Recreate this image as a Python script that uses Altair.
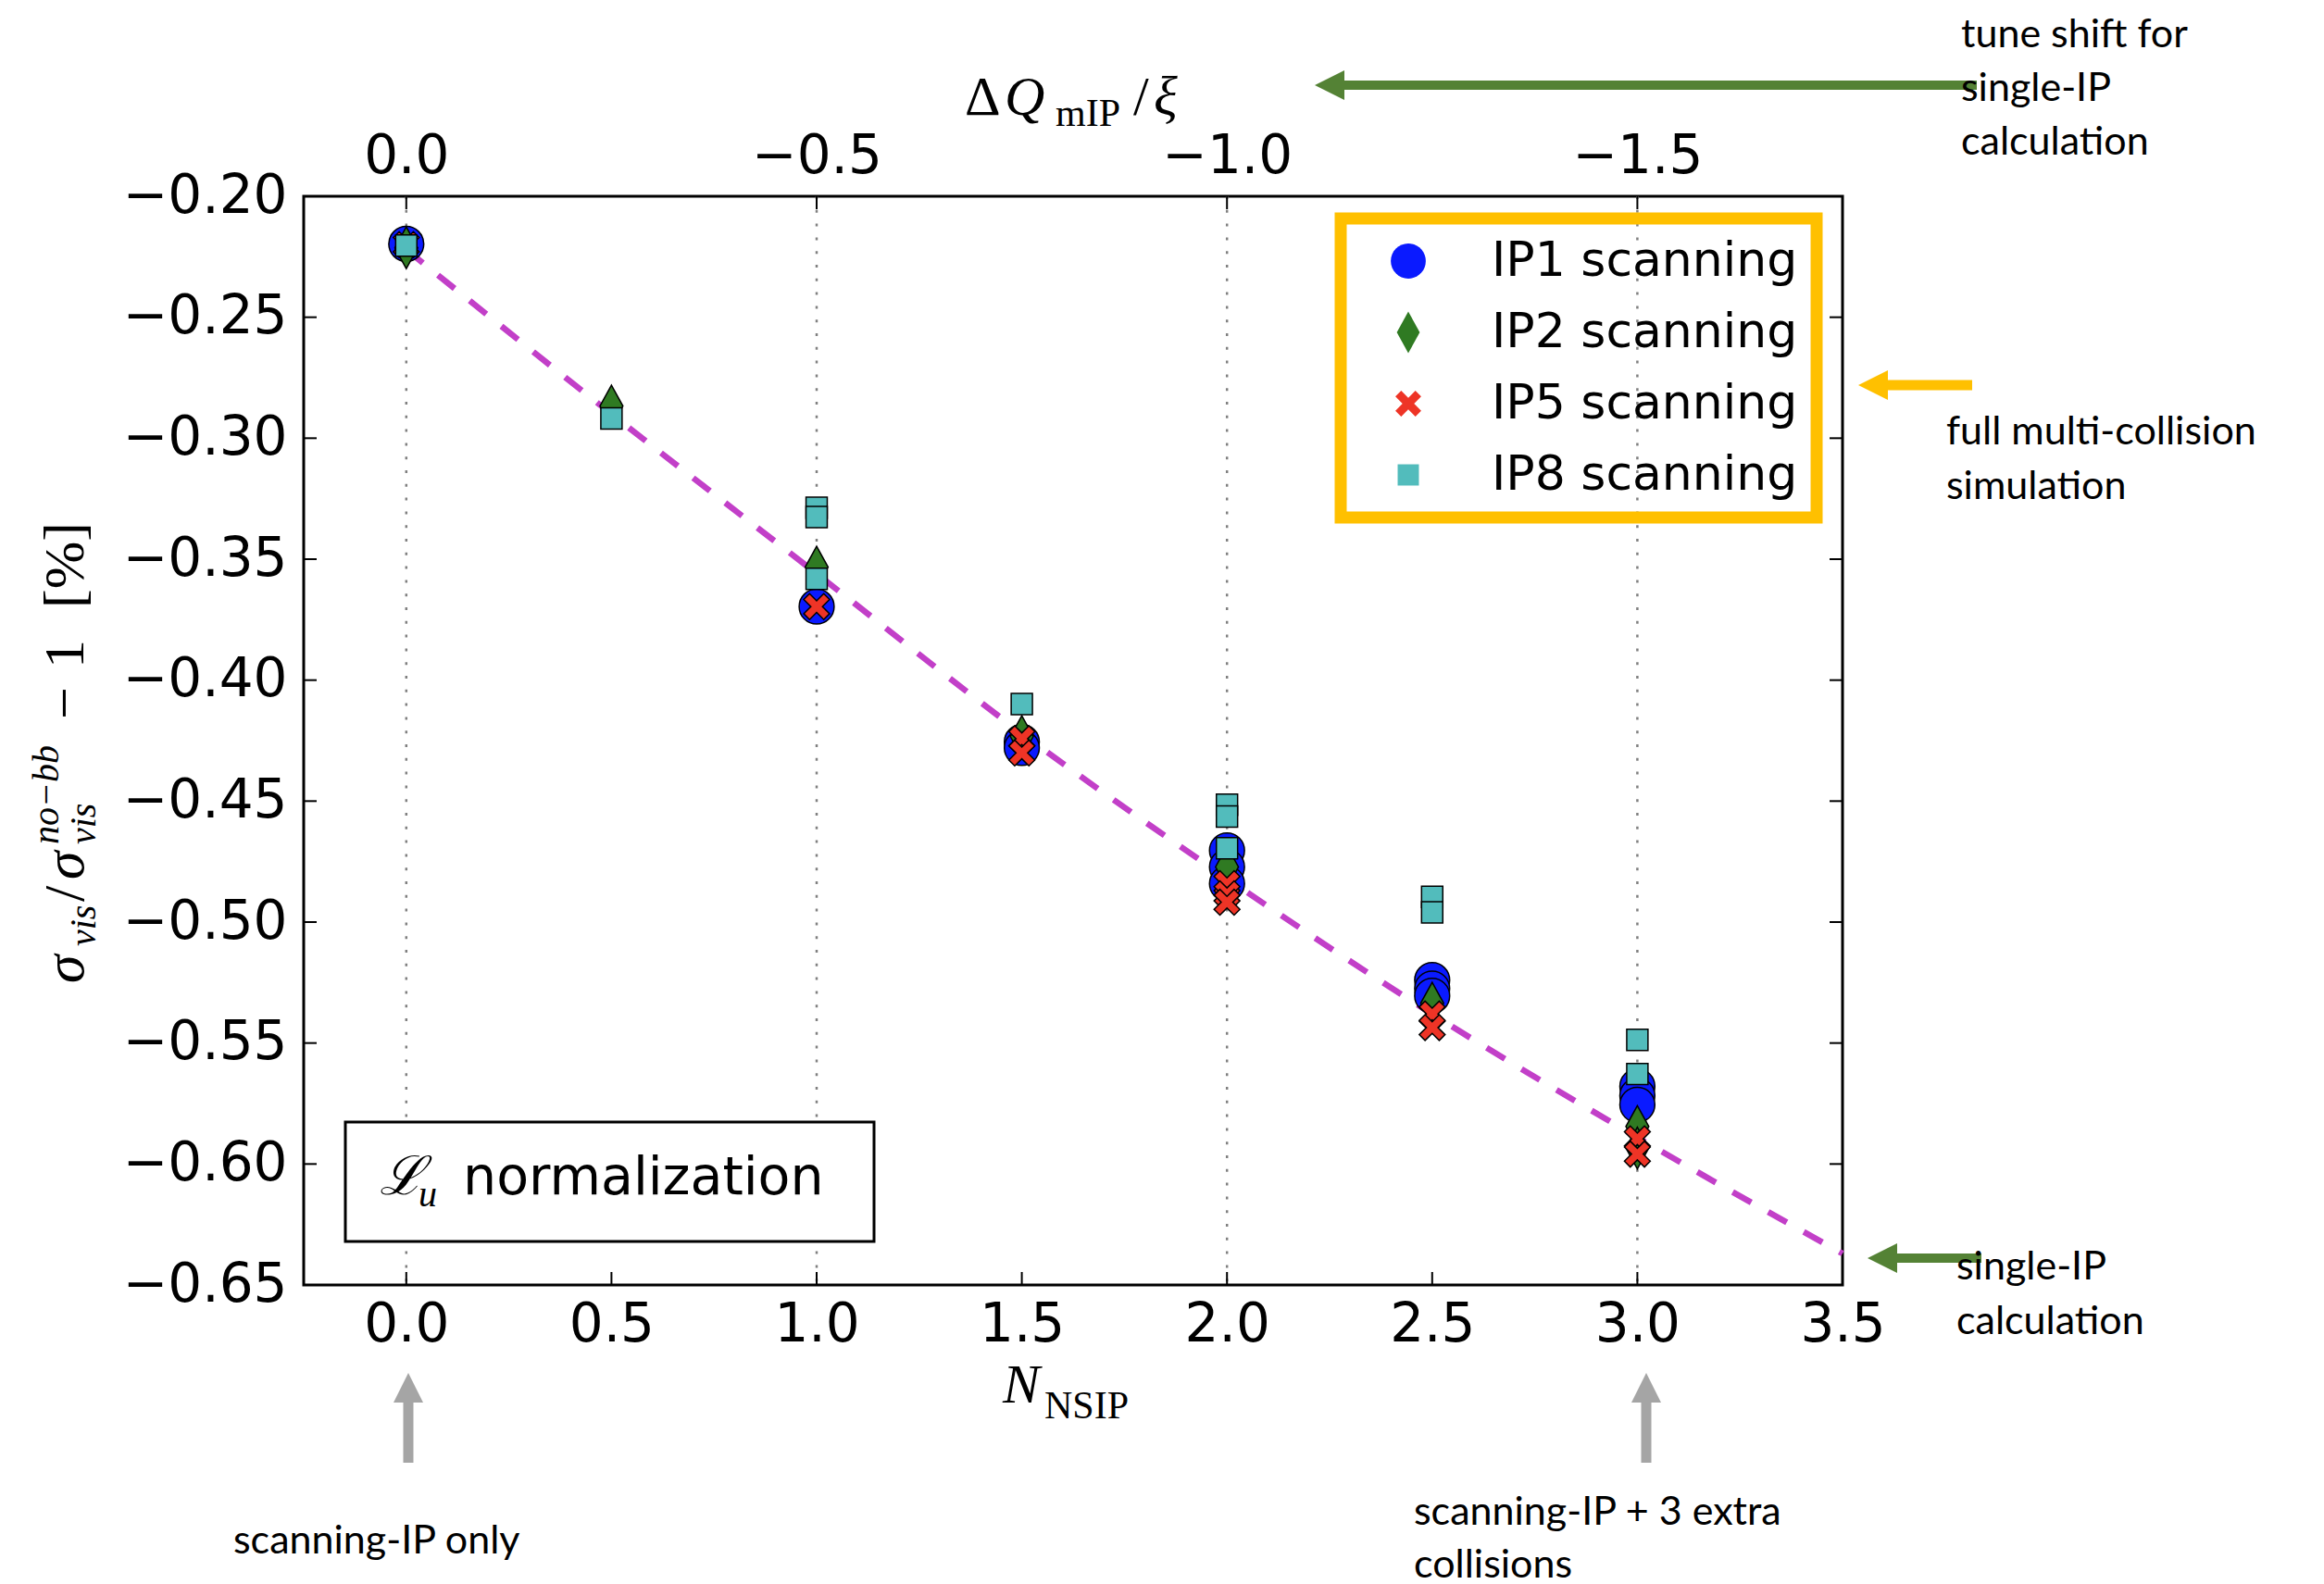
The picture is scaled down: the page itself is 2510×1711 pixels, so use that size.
import altair as alt
import pandas as pd

# ---------------- data ----------------
SERIES = ["IP1 scanning", "IP2 scanning", "IP5 scanning", "IP8 scanning"]

IP1_X = [0.0, 1.0, 1.5, 1.5, 2.0, 2.0, 2.0, 2.5, 2.5, 2.5, 3.0, 3.0, 3.0]
IP1_Y = [-0.2197, -0.3696, -0.4255, -0.4280, -0.4704, -0.4772, -0.4841,
         -0.5240, -0.5275, -0.5305, -0.5679, -0.5717, -0.5755]

IP2_X = [0.0, 0.5, 1.0, 1.5, 2.0, 2.5, 3.0, 3.0]
IP2_Y = [-0.2213, -0.2867, -0.3533, -0.4233, -0.4772, -0.5335, -0.5845, -0.5934]

IP5_X = [0.0, 1.0, 1.5, 1.5, 2.0, 2.0, 2.0, 2.5, 2.5, 3.0, 3.0]
IP5_Y = [-0.2200, -0.3696, -0.4242, -0.4301, -0.4841, -0.4883, -0.4918,
         -0.5380, -0.5436, -0.5896, -0.5959]

IP8_X = [0.0, 0.5, 1.0, 1.0, 1.0, 1.5, 2.0, 2.0, 2.0, 2.5, 2.5, 3.0, 3.0]
IP8_Y = [-0.2204, -0.2918, -0.3288, -0.3326, -0.3581, -0.4099, -0.4515,
         -0.4564, -0.4695, -0.4896, -0.4960, -0.5487, -0.5628]

CURVE_X = [0.0, 0.5, 1.0, 1.5, 2.0, 2.5, 3.0, 3.5]
CURVE_Y = [-0.222, -0.290, -0.356, -0.422, -0.482, -0.538, -0.589, -0.637]

X_TICKS = [0.0, 0.5, 1.0, 1.5, 2.0, 2.5, 3.0, 3.5]
TOP_TICKS = [0.0, 1.0, 2.0, 3.0]          # N_NSIP positions of dQ/xi = 0, -0.5, -1.0, -1.5
Y_TICKS = [-0.20, -0.25, -0.30, -0.35, -0.40, -0.45, -0.50, -0.55, -0.60, -0.65]

# ---------------- styles ----------------
W, H = 1662, 1176
PAD = {"left": 328, "top": 212, "right": 520, "bottom": 323}

COLORS = ["#0a1aff", "#2f7a22", "#ee3426", "#52bcbc"]

def poly(points, scale=1.0):
    return "M" + "L".join(f"{px*scale:.3f},{py*scale:.3f}" for px, py in points) + "Z"

r, k = 0.84, 0.84 * 0.5523
CIRCLE = (f"M{r},0C{r},{k} {k},{r} 0,{r}C{-k},{r} {-r},{k} {-r},0"
          f"C{-r},{-k} {-k},{-r} 0,{-r}C{k},{-r} {r},{-k} {r},0Z")
DIAMOND = poly([(0, -1), (0.55, 0), (0, 1), (-0.55, 0)])
XSHAPE = poly([(-1, -0.55), (-0.55, -1), (0, -0.45), (0.55, -1), (1, -0.55), (0.45, 0),
               (1, 0.55), (0.55, 1), (0, 0.45), (-0.55, 1), (-1, 0.55), (-0.45, 0)], 0.62)
SQUARE = poly([(-0.51, -0.51), (0.51, -0.51), (0.51, 0.51), (-0.51, 0.51)])
SHAPES = [CIRCLE, DIAMOND, XSHAPE, SQUARE]
SYM = 2025

MATH = "Liberation Serif"
ANN = "Lato"
ONE = pd.DataFrame({"k": [0]})

xs = alt.Scale(domain=[-0.25, 3.5], nice=False, zero=False)
ys = alt.Scale(domain=[-0.65, -0.20], nice=False, zero=False)

# ---------------- tables ----------------
rows = []
for name, xv, yv in zip(SERIES, [IP1_X, IP2_X, IP5_X, IP8_X], [IP1_Y, IP2_Y, IP5_Y, IP8_Y]):
    rows += [{"series": name, "n": a, "v": b} for a, b in zip(xv, yv)]
pts = pd.DataFrame(rows)
curve = pd.DataFrame({"n": CURVE_X, "v": CURVE_Y})
xt = pd.DataFrame({"n": X_TICKS})
tt = pd.DataFrame({"n": TOP_TICKS})
yt = pd.DataFrame({"v": Y_TICKS})

layers = []

# dotted grid + top axis (dQ_mIP / xi)
layers.append(alt.Chart(tt).mark_rule(color="#808080", strokeWidth=2.5, strokeDash=[3, 11.8]).encode(
    x=alt.X("n:Q", scale=xs, axis=alt.Axis(
        orient="top", values=TOP_TICKS, labelExpr="format(-datum.value / 2, '.1f')",
        ticks=False, domain=False, grid=False, labelPadding=14, title=None,
        labelFlush=False, labelOverlap=False))
))

# single-IP calculation curve
layers.append(alt.Chart(curve).mark_line(color="#c23fc8", strokeWidth=6.5, strokeDash=[23, 21],
                                         interpolate="monotone").encode(
    x=alt.X("n:Q", scale=xs, axis=None), y=alt.Y("v:Q", scale=ys, axis=None)))

# inward tick marks
TK = dict(color="black", strokeWidth=2)
layers.append(alt.Chart(xt).mark_rule(**TK).encode(
    x=alt.X("n:Q", scale=xs, axis=None), y=alt.value(H), y2=alt.value(H - 14)))
layers.append(alt.Chart(tt).mark_rule(**TK).encode(
    x=alt.X("n:Q", scale=xs, axis=None), y=alt.value(0), y2=alt.value(14)))
layers.append(alt.Chart(yt).mark_rule(**TK).encode(
    y=alt.Y("v:Q", scale=ys, axis=None), x=alt.value(0), x2=alt.value(14)))
layers.append(alt.Chart(yt).mark_rule(**TK).encode(
    y=alt.Y("v:Q", scale=ys, axis=None), x=alt.value(W), x2=alt.value(W - 14)))


def text_piece(s, x, y, size, font, style="normal", angle=0, align="left",
               baseline="alphabetic", line_height=None):
    kw = dict(text=s, font=font, fontSize=size, fontStyle=style, angle=angle,
              align=align, baseline=baseline, color="black")
    if line_height:
        kw["lineHeight"] = line_height
    return alt.Chart(ONE).mark_text(**kw).encode(x=alt.value(x), y=alt.value(y))


# L_u normalization box
layers.append(alt.Chart(ONE).mark_rect(fill="white", stroke="black", strokeWidth=3).encode(
    x=alt.value(45), x2=alt.value(616), y=alt.value(1000), y2=alt.value(1129)))
layers.append(text_piece("\u2112", 82, 1078, 58, MATH, "italic"))
layers.append(text_piece("u", 124, 1091, 40, MATH, "italic"))
layers.append(text_piece("normalization", 172, 1078, 57, "DejaVu Sans"))

# data points + legend
legend = alt.Legend(
    title=None, orient="none", legendX=1120, legendY=24, padding=20, rowPadding=25,
    labelFont="DejaVu Sans", labelFontSize=52, labelColor="black", labelLimit=0,
    labelOffset=64, symbolOffset=27, symbolSize=SYM, symbolStrokeColor="black",
    symbolStrokeWidth=1.5, symbolOpacity=1, strokeColor="#ffc000")
layers.append(alt.Chart(pts).mark_point(filled=True, opacity=1, size=SYM, stroke="black",
                                        strokeWidth=1.5).encode(
    x=alt.X("n:Q", scale=xs, axis=alt.Axis(
        orient="bottom", values=X_TICKS, format=".1f", ticks=False, domain=False, grid=False,
        labelPadding=14, title=None, labelFlush=False, labelOverlap=False)),
    y=alt.Y("v:Q", scale=ys, axis=alt.Axis(
        orient="left", values=Y_TICKS, format=".2f", ticks=False, domain=False, grid=False,
        labelPadding=18, title=None, labelFlush=False, labelOverlap=False)),
    color=alt.Color("series:N", scale=alt.Scale(domain=SERIES, range=COLORS), legend=legend),
    shape=alt.Shape("series:N", scale=alt.Scale(domain=SERIES, range=SHAPES), legend=legend),
))

# axis titles built from math pieces
# top: Delta Q_mIP / xi
TB = -88
layers.append(text_piece("\u0394", 714, TB, 60, MATH))
layers.append(text_piece("Q", 757, TB, 60, MATH, "italic"))
layers.append(text_piece("mIP", 812, TB + 12, 42, MATH))
layers.append(text_piece("/", 896, TB, 60, MATH))
layers.append(text_piece("\u03be", 918, TB, 60, MATH, "italic"))
# bottom: N_NSIP
layers.append(text_piece("N", 755, 1303, 60, MATH, "italic"))
layers.append(text_piece("NSIP", 800, 1320, 42, MATH))
# left (rotated): sigma_vis / sigma_vis^{no-bb} - 1 [%]
BX = -238
layers.append(text_piece("\u03c3", BX, 850, 62, MATH, "italic", angle=270))
layers.append(text_piece("vis", BX + 13, 810, 40, MATH, "italic", angle=270))
layers.append(text_piece("/", BX, 762, 62, MATH, angle=270))
layers.append(text_piece("\u03c3", BX, 738, 62, MATH, "italic", angle=270))
layers.append(text_piece("vis", BX + 13, 700, 40, MATH, "italic", angle=270))
layers.append(text_piece("no\u2212bb", BX - 27, 700, 40, MATH, "italic", angle=270))
layers.append(text_piece("\u2212", BX, 565, 62, MATH, angle=270))
layers.append(text_piece("1", BX, 510, 62, MATH, angle=270))
layers.append(text_piece("[%]", BX, 445, 62, MATH, angle=270))

# ---------------- annotations ----------------
LEFT_HEAD = "M-1,0L1,-1L1,1Z"
UP_HEAD = "M0,-1L1,1L-1,1Z"


def arrow_left(x_tip, x_tail, y, color, width, head=32):
    return [
        alt.Chart(ONE).mark_rule(color=color, strokeWidth=width).encode(
            x=alt.value(x_tip + head * 0.8), x2=alt.value(x_tail), y=alt.value(y)),
        alt.Chart(ONE).mark_point(shape=LEFT_HEAD, filled=True, color=color, opacity=1,
                                  size=head * head, strokeWidth=0).encode(
            x=alt.value(x_tip + head / 2), y=alt.value(y)),
    ]


def arrow_up(x, y_tip, y_tail, color, width, head=32):
    return [
        alt.Chart(ONE).mark_rule(color=color, strokeWidth=width).encode(
            x=alt.value(x), y=alt.value(y_tip + head * 0.8), y2=alt.value(y_tail)),
        alt.Chart(ONE).mark_point(shape=UP_HEAD, filled=True, color=color, opacity=1,
                                  size=head * head, strokeWidth=0).encode(
            x=alt.value(x), y=alt.value(y_tip + head / 2)),
    ]


GREEN, ORANGE, GREY = "#548235", "#ffc000", "#a5a5a5"
layers += arrow_left(1092, 1807, -120, GREEN, 10)
layers += arrow_left(1679, 1802, 204, ORANGE, 11)
layers += arrow_left(1689, 1812, 1147, GREEN, 10)
layers += arrow_up(113, 1271, 1368, GREY, 11)
layers += arrow_up(1450, 1271, 1368, GREY, 11)

layers.append(text_piece(["tune shift for", "single-IP", "calculation"], 1790, -161, 43, ANN,
                         line_height=58))
layers.append(text_piece(["full multi-collision", "simulation"], 1774, 268, 43, ANN,
                         line_height=59))
layers.append(text_piece(["single-IP", "calculation"], 1785, 1170, 43, ANN, line_height=59))
layers.append(text_piece("scanning-IP only", -76, 1466, 43, ANN))
layers.append(text_piece(["scanning-IP + 3 extra", "collisions"], 1199, 1435, 43, ANN,
                         line_height=57))

chart = alt.layer(*layers).resolve_axis(x="independent", y="independent").properties(
    width=W, height=H, padding=PAD, autosize=alt.AutoSizeParams(type="none"),
    background="white",
).configure_view(stroke="black", strokeWidth=3).configure_axis(
    labelFont="DejaVu Sans", labelFontSize=58, labelColor="black"
).configure_legend(strokeWidth=13)

chart.save("out.html", embed_options={"renderer": "svg", "actions": False})
